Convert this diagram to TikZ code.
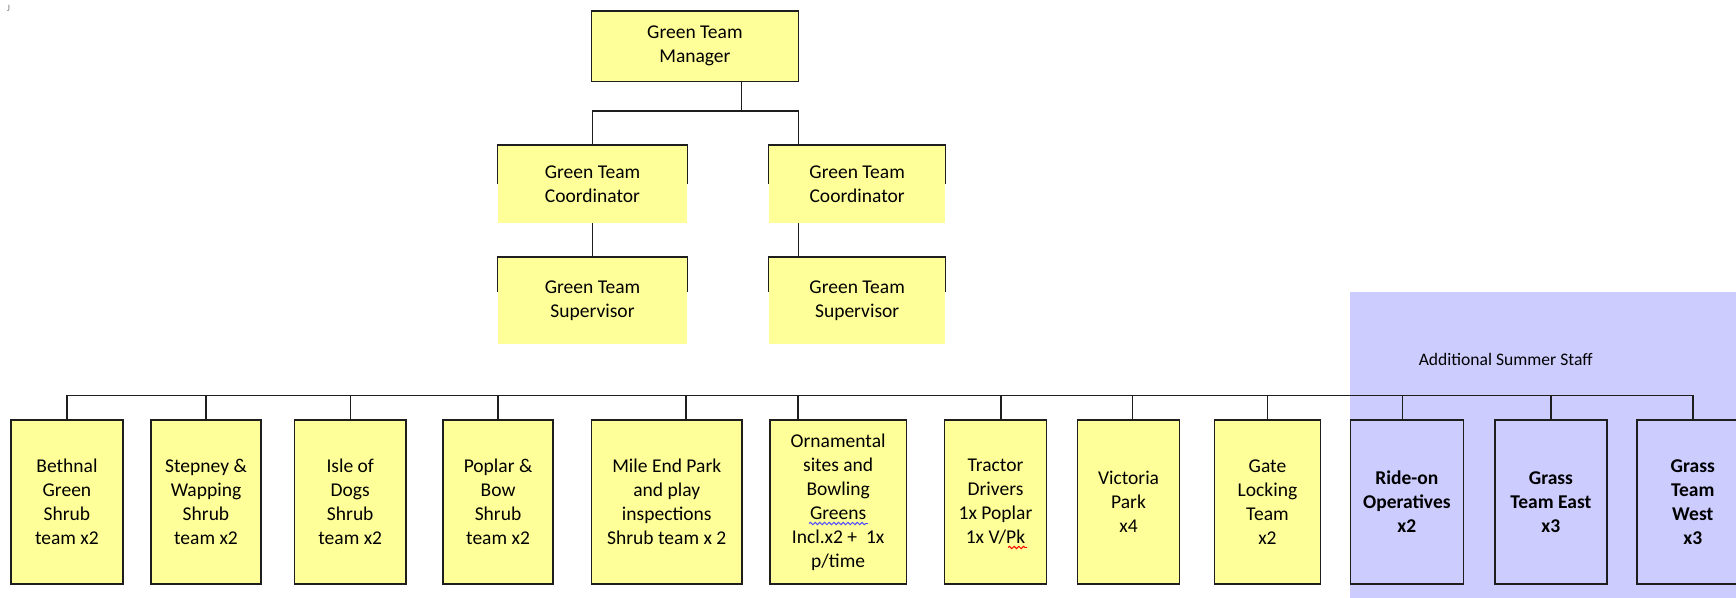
\documentclass[tikz,border=0pt]{standalone}
\usepackage{fontspec}
\setmainfont{Carlito}
\usepackage{tikz}
\usetikzlibrary{decorations.pathmorphing}
\definecolor{postyellow}{RGB}{255,255,153}
\definecolor{summerblue}{RGB}{204,204,255}
\definecolor{wirecol}{RGB}{30,30,30}

\begin{document}
\begin{tikzpicture}[x=0.018cm, y=-0.018cm,
	post/.style={shape=rectangle, draw=wirecol, fill=postyellow, line width=0.75pt, inner sep=0, align=center, font=\fontsize{10}{12.3}\selectfont},
	openpost/.style={post, draw=none},
	summerpost/.style={post, fill=summerblue, font=\fontsize{10}{12.3}\selectfont\bfseries},
	wire/.style={draw=wirecol, line width=0.75pt},
	squiggle/.style={line width=0.5pt, decorate, decoration={snake, amplitude=0.6pt, segment length=2.4pt}}]
	% Frame and summer area:
	\useasboundingbox (0,0) rectangle (1736,598);
	\clip (0,0) rectangle (1736,598);
	\fill[summerblue] (1350.3,291.7) rectangle (1736,598);
	\node[text=gray, font=\fontsize{5}{5}\selectfont] (Mark) at (8.5,8.5) {J};
	\node[font=\fontsize{9}{11}\selectfont] (Label1) at (1505.7,359.3) {Additional Summer Staff};
	% Top of the tree:
	\node[post, minimum width=3.73cm, minimum height=1.265cm] (N1) at (694.9,46.15) {Green Team\\Manager};
	\node[openpost, minimum width=3.391cm, minimum height=1.386cm] (N2) at (592.5,184.2) {Green Team\\Coordinator};
	\node[openpost, minimum width=3.163cm, minimum height=1.386cm] (N3) at (857.15,184.2) {Green Team\\Coordinator};
	\node[openpost, minimum width=3.391cm, minimum height=1.559cm] (N4) at (592.5,301) {Green Team\\Supervisor};
	\node[openpost, minimum width=3.163cm, minimum height=1.559cm] (N5) at (857.15,301) {Green Team\\Supervisor};
	\draw[wire] ([yshift=-0.707cm]N2.north west) |- (N2.north) -| ([yshift=-0.707cm]N2.north east);
	\draw[wire] ([yshift=-0.707cm]N3.north west) |- (N3.north) -| ([yshift=-0.707cm]N3.north east);
	\draw[wire] ([yshift=-0.623cm]N4.north west) |- (N4.north) -| ([yshift=-0.623cm]N4.north east);
	\draw[wire] ([yshift=-0.623cm]N5.north west) |- (N5.north) -| ([yshift=-0.623cm]N5.north east);
	% Teams:
	\node[post, minimum width=2.014cm, minimum height=2.952cm] (N6) at (66.95,502) {Bethnal\\Green\\Shrub\\team x2};
	\node[post, minimum width=1.984cm, minimum height=2.952cm] (N7) at (206,502) {Stepney \&\\Wapping\\Shrub\\team x2};
	\node[post, minimum width=2.003cm, minimum height=2.952cm] (N8) at (350.25,502) {Isle of\\Dogs\\Shrub\\team x2};
	\node[post, minimum width=1.975cm, minimum height=2.952cm] (N9) at (498.05,502) {Poplar \&\\Bow\\Shrub\\team x2};
	\node[post, minimum width=2.716cm, minimum height=2.952cm] (N10) at (666.75,502) {Mile End Park\\and play\\inspections\\Shrub team x 2};
	\node[post, minimum width=2.461cm, minimum height=2.952cm] (N11) at (838.15,502) {Ornamental\\sites and\\Bowling\\Greens\\Incl.x2 + \ 1x\\p/time};
	\node[post, minimum width=1.836cm, minimum height=2.952cm] (N12) at (995.5,502) {Tractor\\Drivers\\1x Poplar\\1x V/Pk};
	\node[post, minimum width=1.831cm, minimum height=2.952cm] (N13) at (1128.55,502) {Victoria\\Park\\x4};
	\node[post, minimum width=1.913cm, minimum height=2.952cm] (N14) at (1267.45,502) {Gate\\Locking\\Team\\x2};
	\node[summerpost, minimum width=2.036cm, minimum height=2.952cm] (N15) at (1406.85,502) {Ride-on\\Operatives\\x2};
	\node[summerpost, minimum width=2.016cm, minimum height=2.952cm] (N16) at (1550.9,502) {Grass\\Team East\\x3};
	\node[summerpost, minimum width=2.016cm, minimum height=2.952cm] (N17) at (1692.8,502) {Grass\\Team\\West\\x3};
	\draw[squiggle, draw=blue!70] (809,523.5) -- (868,523.5);
	\draw[squiggle, draw=red] (1008,547.5) -- (1027,547.5);
	% Wires:
	\coordinate (J1) at (741.7,111);
	\coordinate (J2) at (798.3,111);
	\draw[wire] (N1.south -| J1) -- (J1);
	\draw[wire] (N2.north) |- (J2) -- (J2 |- N3.north);
	\draw[wire] (N2.south) -- (N4.north);
	\draw[wire] (J2 |- N3.south) -- (J2 |- N5.north);
	\coordinate (J3) at (900,395.7);
	\coordinate (K10) at (686.2,395.7);
	\coordinate (K11) at (798,395.7);
	\coordinate (K12) at (1001,395.7);
	\coordinate (K13) at (1132.6,395.7);
	\coordinate (K15) at (1402.3,395.7);
	\draw[wire] (N6.north) |- (J3) -| (N17.north);
	\draw[wire] (N7.north) -- (N7.north |- J3);
	\draw[wire] (N8.north) -- (N8.north |- J3);
	\draw[wire] (N9.north) -- (N9.north |- J3);
	\draw[wire] (K10) -- (K10 |- N10.north);
	\draw[wire] (K11) -- (K11 |- N11.north);
	\draw[wire] (K12) -- (K12 |- N12.north);
	\draw[wire] (K13) -- (K13 |- N13.north);
	\draw[wire] (N14.north) -- (N14.north |- J3);
	\draw[wire] (K15) -- (K15 |- N15.north);
	\draw[wire] (N16.north) -- (N16.north |- J3);
\end{tikzpicture}
\end{document}
